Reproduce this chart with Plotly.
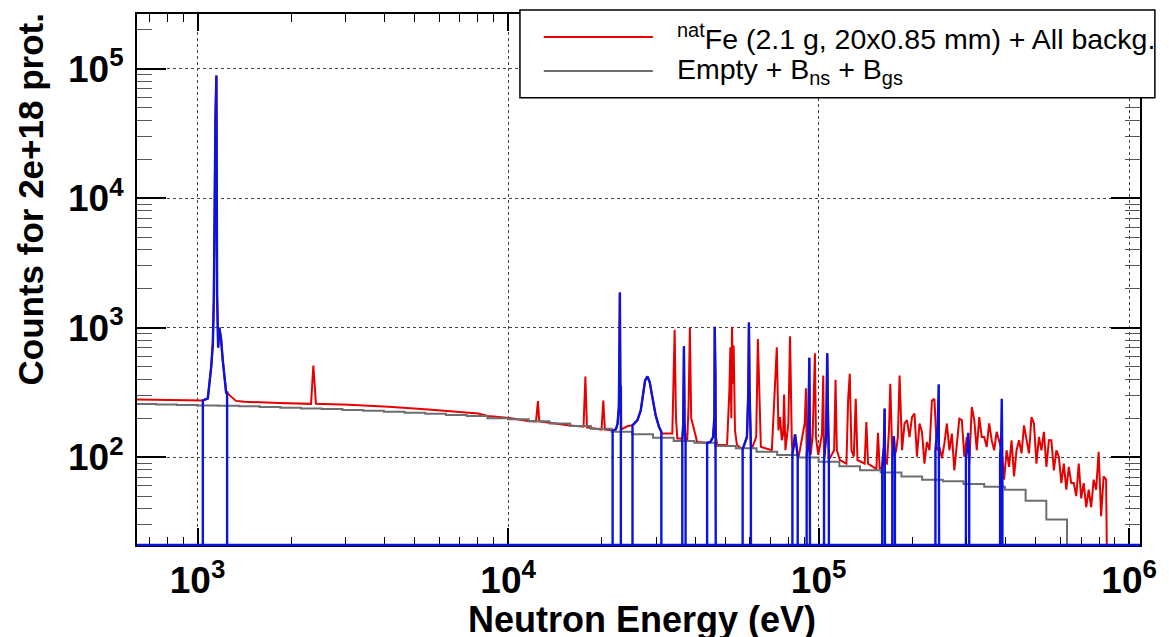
import plotly.graph_objects as go

# ---------------- data ----------------
# Grey histogram "Empty + Bns + Bgs" : bin edges (eV) and counts per bin
gray_edges_ev = [631, 736, 858, 1000, 1166, 1359, 1585, 1848, 2154, 2512, 2929, 3415,
                 3981, 4642, 5412, 6310, 7356, 8577, 10000, 11659, 13594, 15849, 18478,
                 21544, 25119, 29286, 34145, 39811, 46416, 54117, 63096, 73564, 85770,
                 100000, 116591, 135936, 158489, 184785, 215443, 251189, 292864, 341455,
                 398107, 464159, 541170, 630957, 735642]
gray_counts = [257, 255, 253, 251, 249, 247, 244, 241, 238, 235, 231, 228, 224, 220, 216, 212,
               208, 200, 196, 189, 182, 174, 166, 157, 150, 141, 133, 129, 122, 117, 110, 104,
               99.5, 92, 85, 79, 76, 71, 67, 65, 62, 59, 56, 46, 33, 0]

# Red spectrum "natFe + All backg." : (energy keV, counts)
red_low = [(0.631, 279), (0.800, 278), (1.000, 275), (1.040, 274), (1.079, 284), (1.106, 492),
           (1.120, 753), (1.128, 1600), (1.142, 42000), (1.150, 89000), (1.156, 1794),
           (1.165, 702), (1.176, 1000), (1.191, 809), (1.205, 567), (1.220, 427), (1.236, 316),
           (1.245, 316), (1.270, 300), (1.330, 272), (1.415, 268), (1.831, 262), (2.320, 258),
           (2.360, 510), (2.406, 258), (3.070, 254), (4.125, 245), (5.540, 233), (7.445, 222),
           (8.010, 217), (8.610, 208), (10.10, 201), (11.60, 190), (12.30, 189), (12.48, 271),
           (12.60, 189), (13.60, 184), (15.60, 176), (17.50, 172), (17.74, 420), (17.95, 170),
           (18.50, 168), (20.00, 163), (20.26, 274), (20.50, 163), (21.71, 161)]
red_mid = [(22.25, 164), (22.52, 182), (22.74, 244), (22.85, 666), (22.91, 1871), (22.99, 348),
           (23.08, 348), (23.15, 164), (24.30, 174), (25.16, 176), (26.10, 193), (26.75, 230),
           (27.21, 309), (27.62, 391), (28.10, 420), (28.58, 380), (29.15, 291), (29.88, 210),
           (30.63, 171), (31.16, 157), (31.30, 152), (33.80, 152), (34.14, 591), (34.39, 966),
           (34.73, 200), (35.07, 139), (36.12, 139), (36.39, 135), (36.65, 180), (36.84, 718),
           (37.01, 180), (37.29, 131), (37.75, 135), (38.13, 250), (38.50, 994), (38.88, 200),
           (40.64, 131), (43.75, 129), (44.84, 131), (45.73, 143), (46.18, 204), (46.29, 1018),
           (46.52, 440), (46.75, 143), (47.10, 124), (50.72, 124), (51.60, 327), (51.98, 706),
           (52.36, 200), (52.62, 1018), (53.01, 369), (53.27, 727), (53.79, 161), (54.59, 124),
           (56.93, 115), (58.78, 143), (59.36, 309), (59.65, 1099), (59.94, 327), (60.53, 120),
           (60.98, 117), (62.96, 143), (63.75, 818), (64.53, 204), (65.17, 120), (70.70, 113),
           (72.44, 327), (73.35, 706), (74.25, 161), (75.16, 204), (76.10, 135), (76.86, 150),
           (77.43, 305), (78.19, 113), (79.90, 182), (80.93, 858), (81.93, 143), (82.34, 105),
           (83.35, 127), (83.97, 150), (84.59, 131), (85.64, 101), (86.27, 101), (90.20, 182),
           (91.08, 341), (91.52, 101), (92.64, 143), (93.33, 585), (93.80, 204), (94.25, 104),
           (95.65, 143), (96.60, 300), (97.32, 635), (98.04, 143), (99.75, 104)]
red_high = [(102.5, 150), (103.5, 428), (104.1, 95), (105.8, 150), (106.6, 635), (107.2, 200),
            (107.9, 98), (108.7, 98), (112.2, 113), (113.4, 396), (114.5, 113), (117.1, 95),
            (122.9, 89), (124.5, 282), (126.0, 440), (127.6, 113), (129.8, 101), (131.7, 282),
            (133.4, 95), (140.7, 89), (142.5, 187), (144.3, 89), (153.5, 81), (155.3, 154),
            (157.3, 81), (160.3, 84), (162.3, 120), (163.2, 237), (163.9, 90), (166.0, 89),
            (168.5, 161), (170.2, 369), (171.8, 113), (172.7, 101), (174.2, 120), (174.8, 145),
            (175.5, 115), (176.1, 105), (177.8, 113), (180.0, 143)]
red_dense = [(182.3, 428), (185.7, 113), (189.1, 182), (192.6, 193), (196.2, 143), (199.9, 204),
             (203.6, 217), (207.4, 101), (211.3, 182), (215.2, 157), (219.2, 89), (223.3, 131),
             (227.5, 113), (231.7, 274), (236.0, 282), (240.4, 113), (244.9, 120), (249.5, 98),
             (254.1, 127), (258.9, 182), (263.7, 113), (268.6, 152), (273.6, 79), (278.7, 127),
             (283.9, 198), (289.2, 193), (294.6, 101), (300.1, 143), (305.7, 89), (311.4, 244),
             (317.2, 193), (323.1, 113), (329.1, 204), (335.2, 143), (341.4, 143), (347.8, 120),
             (354.3, 182), (360.9, 135), (367.6, 113), (374.4, 157), (381.4, 135), (388.5, 113),
             (395.7, 67), (403.1, 113), (410.6, 84), (418.2, 135), (426.0, 71), (434.0, 113),
             (442.0, 135), (450.3, 107), (458.7, 176), (467.2, 135), (475.9, 107), (484.8, 204),
             (493.8, 182), (503.0, 89), (512.3, 143), (521.9, 113), (531.6, 157), (541.5, 84),
             (551.6, 135), (561.8, 135), (572.3, 79), (583.0, 113), (593.8, 101), (604.9, 63),
             (616.1, 89), (627.6, 56), (639.3, 84), (651.2, 63), (663.3, 63), (675.6, 50),
             (688.2, 89), (701.0, 48), (714.1, 63), (727.4, 41), (740.9, 56), (754.7, 41),
             (768.8, 67), (783.1, 56), (797.7, 110), (812.5, 35), (827.6, 71), (843.0, 67),
             (858.7, 0)]

# Blue spectrum: non-zero only inside the resonance windows (energy keV, counts)
blue_w0 = [(1.040, 0), (1.040, 274), (1.079, 284), (1.106, 492), (1.120, 753), (1.128, 1600),
           (1.142, 42000), (1.150, 89000), (1.156, 1794), (1.165, 702), (1.176, 1000),
           (1.191, 809), (1.205, 567), (1.220, 427), (1.236, 316), (1.245, 316), (1.245, 0)]
blue_w1 = [(21.71, 0), (21.71, 161), (22.25, 164), (22.52, 182), (22.74, 244), (22.85, 666),
           (22.91, 1871), (22.99, 348), (23.08, 348), (23.08, 0)]
blue_w2 = [(25.16, 0), (25.16, 176), (26.10, 193), (26.75, 230), (27.21, 309), (27.62, 391),
           (28.10, 420), (28.58, 380), (29.15, 291), (29.88, 210), (30.63, 171), (31.16, 157),
           (31.16, 0)]
blue_w3 = [(36.39, 0), (36.39, 135), (36.65, 180), (36.84, 718), (37.01, 180), (37.29, 131),
           (37.29, 0)]
blue_w4 = [(43.75, 0), (43.75, 129), (44.84, 131), (45.73, 143), (46.18, 204), (46.29, 1018),
           (46.52, 440), (46.75, 143), (46.75, 0)]
blue_w5 = [(56.93, 0), (56.93, 115), (58.78, 143), (59.36, 309), (59.65, 1099), (59.94, 327),
           (60.53, 120), (60.53, 0)]
blue_w6 = [(82.34, 0), (82.34, 105), (83.35, 127), (83.97, 150), (84.59, 131), (85.64, 101),
           (85.64, 0)]
blue_w7 = [(91.52, 0), (91.52, 101), (92.64, 143), (93.33, 585), (93.80, 204), (94.25, 104),
           (94.25, 0)]
blue_w8 = [(104.1, 0), (104.1, 95), (105.8, 150), (106.6, 635), (107.2, 200), (107.9, 98),
           (107.9, 0)]
blue_w9 = [(160.3, 0), (160.3, 84), (162.3, 120), (163.2, 237), (163.9, 90), (163.9, 0)]
blue_w10 = [(172.7, 0), (172.7, 101), (174.2, 120), (174.8, 145), (175.5, 115), (176.1, 105),
            (176.1, 0)]
blue_w11 = [(237.8, 0), (237.8, 113), (241.9, 180), (243.7, 365), (244.9, 120), (244.9, 0)]
blue_w12 = [(298.1, 0), (298.1, 101), (301.5, 120), (303.2, 154), (305.5, 110), (305.5, 0)]
blue_w13 = [(384.1, 0), (384.1, 101), (387.5, 150), (388.9, 282), (390.8, 75), (390.8, 0)]

x_tickvals = [1e3, 1e4, 1e5, 1e6]
x_ticktext = ["10<sup>3</sup>", "10<sup>4</sup>", "10<sup>5</sup>", "10<sup>6</sup>"]
y_tickvals = [1e2, 1e3, 1e4, 1e5]
y_ticktext = ["10<sup>2</sup>", "10<sup>3</sup>", "10<sup>4</sup>", "10<sup>5</sup>"]
x_minor = [700, 800, 900, 2000, 3000, 4000, 5000, 6000, 7000, 8000, 9000,
           20000, 30000, 40000, 50000, 60000, 70000, 80000, 90000,
           200000, 300000, 400000, 500000, 600000, 700000, 800000, 900000]
y_minor = [30, 40, 50, 60, 70, 80, 90, 200, 300, 400, 500, 600, 700, 800, 900,
           2000, 3000, 4000, 5000, 6000, 7000, 8000, 9000,
           20000, 30000, 40000, 50000, 60000, 70000, 80000, 90000, 200000]

legend_red = "<sup>nat</sup>Fe (2.1 g, 20x0.85 mm) + All backg."
legend_gray = "Empty + B<sub>ns</sub> + B<sub>gs</sub>"
x_title = "Neutron Energy (eV)"
y_title = "Counts for 2e+18 prot."

# ---------------- figure ----------------
FLOOR = 1.0  # zero counts are drawn below the log axis


def ev(pts):
    return [p[0] * 1000.0 for p in pts]


def cnt(pts):
    return [p[1] if p[1] > 0 else FLOOR for p in pts]


RED = "#e60000"
BLUE = "#0a14dc"
GRAY = "#6e6e6e"

red_pts = red_low + red_mid + red_high + red_dense
blue_pts = (blue_w0 + blue_w1 + blue_w2 + blue_w3 + blue_w4 + blue_w5 + blue_w6 + blue_w7 +
            blue_w8 + blue_w9 + blue_w10 + blue_w11 + blue_w12 + blue_w13)

fig = go.Figure()
fig.add_trace(go.Scatter(x=ev(red_pts), y=cnt(red_pts), mode="lines",
                         line=dict(color=RED, width=2), showlegend=False, hoverinfo="skip"))
gy = [c if c > 0 else FLOOR for c in gray_counts]
fig.add_trace(go.Scatter(x=gray_edges_ev, y=gy + [gy[-1]], mode="lines", line_shape="hv",
                         line=dict(color=GRAY, width=2), showlegend=False, hoverinfo="skip"))
fig.add_trace(go.Scatter(x=ev(blue_pts), y=cnt(blue_pts), mode="lines",
                         line=dict(color=BLUE, width=2.4), showlegend=False, hoverinfo="skip"))

L, R, T, B = 137, 1148, 13, 545
W, H = 1169, 637


def px(x):
    return (x - L) / (R - L)


def py(y):
    return (B - y) / (B - T)


FONT = "Liberation Sans, Arial, Helvetica, sans-serif"

fig.update_layout(
    width=W, height=H,
    margin=dict(l=L, r=W - R, t=T, b=H - B, pad=0),
    paper_bgcolor="white", plot_bgcolor="white",
    showlegend=False,
    xaxis=dict(type="log", range=[2.805, 6.035], tickmode="array", tickvals=x_tickvals,
               ticktext=x_ticktext, ticks="inside", ticklen=17, tickwidth=1.5, tickcolor="black",
               showline=True, linecolor="black", linewidth=2, mirror="ticks",
               showgrid=True, gridcolor="#444", griddash="dot", gridwidth=1, zeroline=False,
               tickfont=dict(family=FONT, size=37, color="black", weight="bold"),
               ticklabelstandoff=2,
               minor=dict(tickmode="array", tickvals=x_minor, ticks="inside", ticklen=8,
                          tickwidth=1.2, tickcolor="black", showgrid=False)),
    yaxis=dict(type="log", range=[1.321, 5.424], tickmode="array", tickvals=y_tickvals,
               ticktext=y_ticktext, ticks="inside", ticklen=29, tickwidth=1.5, tickcolor="black",
               showline=True, linecolor="black", linewidth=2, mirror="ticks",
               showgrid=True, gridcolor="#444", griddash="dot", gridwidth=1, zeroline=False,
               tickfont=dict(family=FONT, size=37, color="black", weight="bold"),
               ticklabelstandoff=4,
               minor=dict(tickmode="array", tickvals=y_minor, ticks="inside", ticklen=15,
                          tickwidth=1.2, tickcolor="#555", showgrid=False)),
)

shapes = [
    # blue zero level drawn along the bottom of the frame
    dict(type="line", xref="paper", yref="paper", x0=0, x1=1, y0=0, y1=0,
         line=dict(color=BLUE, width=2.5), layer="above"),
    # legend box
    dict(type="rect", xref="paper", yref="paper", x0=px(523), x1=px(1163), y0=py(97), y1=py(9),
         fillcolor="white", line=dict(color="black", width=1.5), layer="above"),
    dict(type="line", xref="paper", yref="paper", x0=px(547), x1=px(657), y0=py(36), y1=py(36),
         line=dict(color=RED, width=2), layer="above"),
    dict(type="line", xref="paper", yref="paper", x0=px(547), x1=px(657), y0=py(70), y1=py(70),
         line=dict(color=GRAY, width=2), layer="above"),
]

annotations = [
    dict(text=legend_red, xref="paper", yref="paper", x=px(679), y=py(36), xanchor="left",
         yanchor="middle", showarrow=False, font=dict(family=FONT, size=28.5, color="black")),
    dict(text=legend_gray, xref="paper", yref="paper", x=px(679), y=py(70), xanchor="left",
         yanchor="middle", showarrow=False, font=dict(family=FONT, size=28.5, color="black")),
    dict(text="<b>" + x_title + "</b>", xref="paper", yref="paper", x=px(646), y=py(620),
         xanchor="center", yanchor="middle", showarrow=False,
         font=dict(family=FONT, size=36, color="black")),
    dict(text="<b>" + y_title + "</b>", xref="paper", yref="paper", x=px(30), y=py(199),
         xanchor="center", yanchor="middle", showarrow=False, textangle=-90,
         font=dict(family=FONT, size=35, color="black")),
]

fig.update_layout(shapes=shapes, annotations=annotations)
fig.write_html("out.html")
